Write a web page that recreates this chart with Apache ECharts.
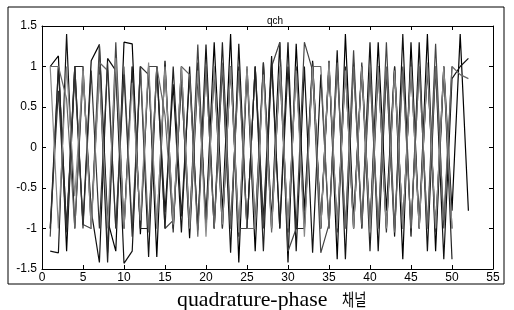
<!DOCTYPE html>
<html>
<head>
<meta charset="utf-8">
<script src="https://cdn.jsdelivr.net/npm/echarts@6/dist/echarts.min.js"></script>
<style>
  html, body { margin: 0; padding: 0; background: #fff; }
  #chart { width: 514px; height: 310px; }
</style>
</head>
<body>
<div id="chart"></div>
<script>
// sample index 1..52
const xIdx = [1,2,3,4,5,6,7,8,9,10,11,12,13,14,15,16,17,18,19,20,21,22,23,24,25,26,
  27,28,29,30,31,32,33,34,35,36,37,38,39,40,41,42,43,44,45,46,47,48,49,50,51,52]
const yTicks = [-1.5,-1,-0.5,0,0.5,1,1.5]

// traces (rough estimates)
const trace1 = [1.0,1.13,-1.28,1.0,-0.95,1.07,1.27,-0.9,-1.28,1.3,1.28,-1.07,1.0,-1.35,1.07,-1.0,0.85,-1.12,0.88,-0.88,
  1.3,-0.8,1.4,-1.42,0.97,-1.28,1.05,-0.9,1.3,-1.42,1.28,-0.78,1.07,-1.0,1.07,-1.38,1.4,-0.9,1.0,-1.0,
  1.3,-0.78,1.0,-1.38,1.3,-1.0,1.4,-1.28,1.0,-0.78,1.4,-0.78]
const trace2 = [-1.28,-1.3,1.4,-1.0,0.9,-0.78,-1.42,1.1,0.95,-1.43,-1.28,1.0,-1.35,1.0,-0.8,0.78,-1.05,1.0,-1.02,1.27,
  -1.0,1.0,-1.3,1.28,-1.0,1.0,-0.9,1.13,-1.0,1.3,-1.28,1.0,-1.3,0.9,-1.0,1.2,-1.38,1.05,-1.0,1.3,
  -1.28,0.95,-1.1,1.4,-1.1,1.3,-1.28,1.0,-1.38,0.85,1.0,1.1]
const trace3 = [-1.1,1.0,-1.0,0.9,-0.95,-1.0,1.27,-1.3,1.3,-1.0,1.0,-1.0,1.0,1.0,-1.0,-0.9,0.8,-1.0,1.27,-1.0,
  1.0,-1.0,1.0,-1.0,-1.0,1.0,-1.0,1.0,1.3,-1.28,-1.0,1.3,0.95,-1.3,-0.95,1.0,-1.0,1.2,-1.0,0.9,
  -1.0,1.3,-1.0,1.0,-1.0,1.0,-1.0,1.28,-1.0,1.0]
const trace4 = [-1.0,1.0,-1.0,1.0,1.0,-0.95,1.0,-1.42,1.0,-1.0,1.0,-1.0,-1.0,1.0,-1.0,1.0,-0.85,0.88,-1.0,1.0,
  -1.0,1.3,-1.0,1.0,-1.0,1.0,-1.28,1.05,-1.0,1.0,-1.0,-1.0,1.0,-1.0,1.0,-1.0,1.0,-1.0,1.0,-1.28,
  1.0,-1.0,1.0,-1.0,1.0,-1.0,1.0,-1.0,1.0,-1.38]
const trace5 = [1.0,1.0,0.6,-1.0,1.0,-1.0,1.05,0.95,-1.0,1.0,-1.0,1.0,-1.05,1.0,0.4,-1.0,1.0,0.9,-1.1,1.0,
  -1.0,1.05,-1.0,0.95,-1.0,-1.0,1.0,-1.05,1.0,-1.0,1.0,-0.95,1.0,1.0,-1.0,1.05,-1.0,1.0,-0.95,1.0,
  -1.0,1.0,-1.05,0.95,-1.0,1.0,-1.0,1.0,-0.9,1.0,0.9,0.85]
const trace6 = [-1.0,0.7,-1.05,1.0,-1.0,0.95,-1.0,1.05,-1.0,0.9,-1.1,1.0,0.9,-1.0,1.0,-1.05,1.0,-0.95,1.05,-1.0,
  0.95,-1.0,1.0,-1.1,1.0,-0.95,1.05,-1.0,0.95,-1.05,1.0,-1.0,1.05,-0.95,1.0,-1.05,0.95,-1.0,1.05,-1.0,
  1.0,-1.05,0.95,-1.0,1.05,-0.95,1.0,-1.05,0.95,-1.0]
const trace7 = [1.0,-1.0,1.0,-0.6,0.95,-1.0,0.9,-1.0,1.1,-1.0,0.8,-0.9,1.05,-1.0,1.0,-0.95,1.0,-1.0,0.95,-1.1,
  1.0,-0.95,1.0,-1.05,1.0,-1.0,0.9,-1.0,1.0,-1.0,0.95,-1.1,1.0,-1.0,1.05,-1.0,0.95,-1.0,1.0,-1.05,
  1.0,-1.0,0.95,-1.0,1.0,-1.0,1.05,-1.0,1.0,-1.0]

const traces = [trace1, trace2, trace3, trace4, trace5, trace6, trace7]
const colors = ['#000', '#111', '#444', '#222', '#666', '#333', '#888']

const chart = echarts.init(document.getElementById('chart'))

const axisFont = {fontFamily: 'Liberation Sans', fontSize: 12, color: '#000'}
const lineStyle = {color: '#000', width: 1}
const tick = {inside: true, length: 4, lineStyle}

const option = {
  animation: false,
  backgroundColor: '#fff',
  title: {
    text: 'qch',
    left: 270,
    top: 11,
    textAlign: 'center',
    textStyle: {fontFamily: 'Liberation Sans', fontSize: 10, fontWeight: 'normal', color: '#000'}
  },
  grid: {left: 42, right: 21, top: 26, bottom: 41},
  graphic: [
    {type: 'rect', shape: {x: 8, y: 7, width: 496, height: 277},
      style: {fill: 'none', stroke: '#000', lineWidth: 1}, silent: true},
    {type: 'text', x: 177, y: 290, scaleX: 1.04,
      style: {text: 'quadrature-phase', font: '21px "Liberation Serif"', fill: '#000', verticalAlign: 'top'}},
    {type: 'text', x: 342, y: 291, scaleX: 0.78,
      style: {text: '채널', font: '17px "Noto Sans CJK KR"', fill: '#000', verticalAlign: 'top'}}
  ],
  xAxis: [
    {type: 'value', min: 0, max: 55, interval: 5, position: 'bottom',
      axisLine: {show: true, onZero: false, lineStyle}, axisTick: tick,
      axisLabel: Object.assign({margin: 3}, axisFont), splitLine: {show: false}},
    {type: 'value', min: 0, max: 55, interval: 5, position: 'top',
      axisLine: {show: true, onZero: false, lineStyle}, axisTick: tick,
      axisLabel: {show: false}, splitLine: {show: false}}
  ],
  yAxis: [
    {type: 'value', min: -1.5, max: 1.5, interval: 0.5, position: 'left',
      axisLine: {show: true, onZero: false, lineStyle}, axisTick: tick,
      axisLabel: Object.assign({margin: 5, formatter: v => yTicks.includes(v) ? String(v) : ''}, axisFont),
      splitLine: {show: false}},
    {type: 'value', min: -1.5, max: 1.5, interval: 0.5, position: 'right',
      axisLine: {show: true, onZero: false, lineStyle}, axisTick: tick,
      axisLabel: {show: false}, splitLine: {show: false}}
  ],
  series: traces.map((t, i) => ({
    type: 'line',
    data: t.map((v, j) => [xIdx[j], v]),
    showSymbol: false,
    symbol: 'none',
    lineStyle: {color: colors[i], width: 1.2},
    z: 2
  }))
}

chart.setOption(option)
</script>
</body>
</html>
